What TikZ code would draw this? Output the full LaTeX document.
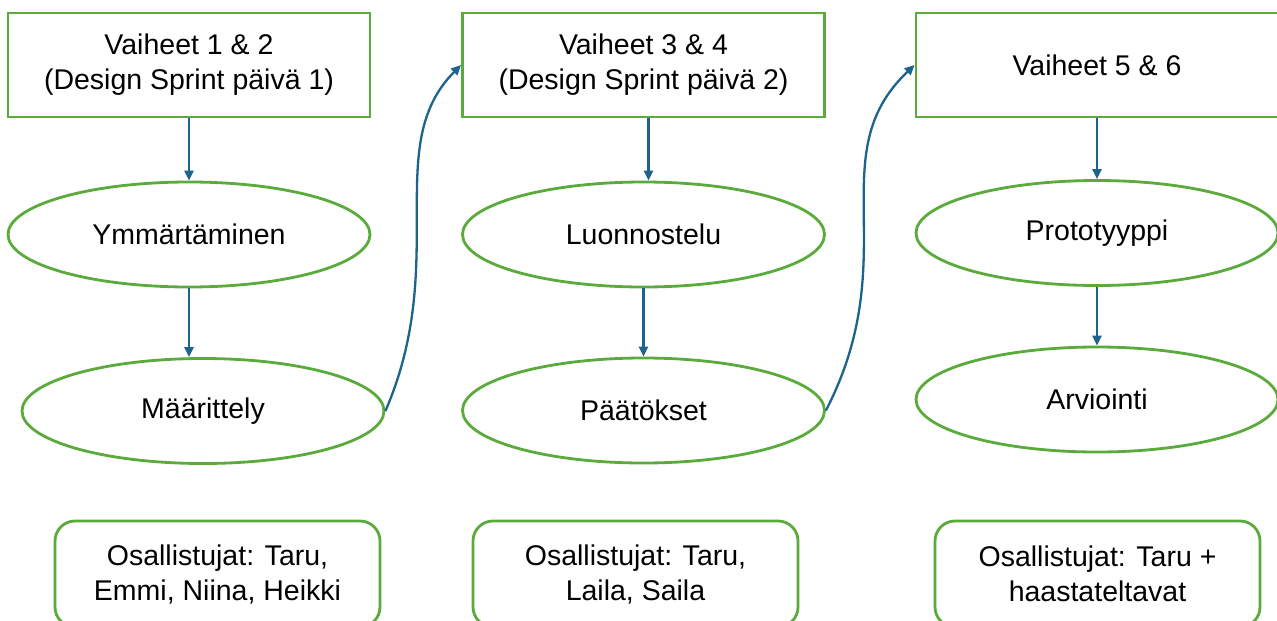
\documentclass[tikz,border=0pt]{standalone}
\usepackage{fontspec}
\setmainfont{Liberation Sans}
\usetikzlibrary{shapes.geometric,arrows.meta,calc}
\definecolor{grn}{RGB}{90,170,60}
\definecolor{arr}{RGB}{28,100,140}
\begin{document}
\begin{tikzpicture}[x=1pt,y=-1pt,
 every node/.style={font=\fontsize{28.5}{35}\selectfont, align=center, text=black},
 box/.style={draw=grn, line width=2.8pt, minimum width=362pt, minimum height=104pt, inner sep=0pt},
 ell/.style={ellipse, draw=grn, line width=2.8pt, minimum width=362pt, minimum height=105pt, inner sep=0pt},
 pbox/.style={draw=grn, line width=2.8pt, rounded corners=20pt, minimum width=325pt, minimum height=106pt, inner sep=0pt},
 conn/.style={draw=arr, line width=2.3pt, -{Triangle[length=10pt,width=9pt]}}]
\useasboundingbox[fill=white] (0,0) rectangle (1277,621);

\node[box] (b1) at (189,65) {Vaiheet 1 \& 2\\(Design Sprint päivä 1)};
\node[box] (b2) at (643.5,65) {Vaiheet 3 \& 4\\(Design Sprint päivä 2)};
\node[box] (b3) at (1097,65) {Vaiheet 5 \& 6};

\node[ell] (e1) at (189,234.5) {Ymmärtäminen};
\node[ell] (e2) at (203,411) {Määrittely};
\node[ell] (e3) at (643.5,234.5) {Luonnostelu};
\node[ell] (e4) at (643.5,410.5) {Päätökset};
\node[ell] (e5) at (1097,233) {Prototyyppi};
\node[ell] (e6) at (1097,399.5) {Arviointi};

\node[pbox] (p1) at (217.5,574) {Osallistujat: Taru,\\Emmi, Niina, Heikki};
\node[pbox] (p2) at (635.5,574) {Osallistujat: Taru,\\Laila, Saila};
\node[pbox] (p3) at (1097.5,574) {Osallistujat: Taru +\\haastateltavat};

\draw[conn] (b1.south) -- (e1.north);
\draw[conn] (e1.south) -- (e1.south |- e2.north);
\draw[conn] ([xshift=5pt]b2.south) -- ([xshift=5pt]e3.north);
\draw[conn] (e3.south) -- (e4.north);
\draw[conn] (b3.south) -- (e5.north);
\draw[conn] (e5.south) -- (e6.north);

\draw[conn] (e2.east) .. controls ($(e2.east)+(65,-150)$) and ($(b2.west)+(-80,80)$) .. (b2.west);
\draw[conn] (e4.east) .. controls ($(e4.east)+(80,-155)$) and ($(b3.west)+(-95,90)$) .. (b3.west);
\end{tikzpicture}
\end{document}
